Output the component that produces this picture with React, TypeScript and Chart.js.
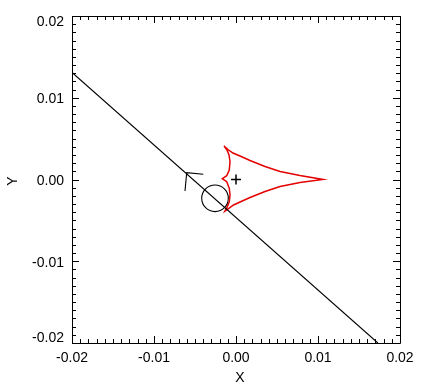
import React, { useEffect, useRef } from "react";
import { Chart, registerables } from "chart.js";

Chart.register(...registerables);

// Axis ticks
const tickValues = [-0.02, -0.01, 0.0, 0.01, 0.02];
const tickLabels = ["-0.02", "-0.01", "0.00", "0.01", "0.02"];
const xTitle = "X";
const yTitle = "Y";

// Straight trajectory line
const lineX = [-0.02, 0.0173];
const lineY = [0.0131, -0.02];

// Arrow chevron on the line
const arrowX = [-0.00399, -0.00601, -0.00622];
const arrowY = [0.00064, 0.00083, -0.00141];

// Circle (source) and plus (lens centre)
const circleX = [-0.00256];
const circleY = [-0.0023];
const plusX = [0.0];
const plusY = [0.0];

// Caustic: upper arc (top cusp -> right cusp)
const upperX = [-0.00146, -0.00098, -0.00037, 0.00049, 0.00171, 0.00354, 0.00537, 0.0078, 0.01061];
const upperY = [0.0041, 0.00367, 0.00324, 0.00287, 0.00232, 0.00159, 0.00098, 0.00049, 0.0];
// lower arc (right cusp -> bottom cusp)
const lowerX = [0.01061, 0.0078, 0.00537, 0.00354, 0.00171, 0.00049, -0.0003, -0.00091, -0.00134];
const lowerY = [0.0, -0.00037, -0.00086, -0.00147, -0.0022, -0.00275, -0.00312, -0.00355, -0.00385];
// lower-left arc (bottom cusp -> left cusp)
const lowLeftX = [-0.00134, -0.00106, -0.00082, -0.00073, -0.00082, -0.00113, -0.00167];
const lowLeftY = [-0.00385, -0.00333, -0.00272, -0.0019, -0.00108, -0.00027, 0.0001];
// upper-left arc (left cusp -> top cusp)
const upLeftX = [-0.00167, -0.00113, -0.00082, -0.00073, -0.00085, -0.0011, -0.00146];
const upLeftY = [0.0001, 0.00046, 0.00116, 0.00218, 0.003, 0.00361, 0.0041];

const pts = (xs: number[], ys: number[]) => xs.map((x, i) => ({ x, y: ys[i] }));

const FONT = "14px 'Liberation Sans', Arial, Helvetica, sans-serif";

const framePlugin = {
  id: "frameTicks",
  afterDatasetsDraw(chart: any) {
    const { ctx, chartArea } = chart;
    const { left, right, top, bottom } = chartArea;
    const xs = chart.scales.x;
    const ys = chart.scales.y;
    ctx.save();
    ctx.strokeStyle = "#000";
    ctx.lineWidth = 1;
    ctx.beginPath();
    ctx.rect(Math.round(left) + 0.5, Math.round(top) + 0.5, Math.round(right - left), Math.round(bottom - top));
    ctx.stroke();
    ctx.beginPath();
    for (let i = -20; i <= 20; i++) {
      const v = i / 1000;
      const len = i % 10 === 0 ? 7 : 4;
      const px = Math.round(xs.getPixelForValue(v)) + 0.5;
      ctx.moveTo(px, bottom);
      ctx.lineTo(px, bottom - len);
      ctx.moveTo(px, top);
      ctx.lineTo(px, top + len);
      const py = Math.round(ys.getPixelForValue(v)) + 0.5;
      ctx.moveTo(left, py);
      ctx.lineTo(left + len, py);
      ctx.moveTo(right, py);
      ctx.lineTo(right - len, py);
    }
    ctx.stroke();

    // y tick labels (end labels kept inside the axis span)
    ctx.fillStyle = "#000";
    ctx.font = FONT;
    ctx.textAlign = "right";
    ctx.textBaseline = "middle";
    tickValues.forEach((v, i) => {
      const py = ys.getPixelForValue(v);
      let off = 1.5;
      if (i === tickValues.length - 1) off = 6;
      if (i === 0) off = -5;
      ctx.fillText(tickLabels[i], left - 8, py + off);
    });

    // axis titles
    ctx.textAlign = "center";
    ctx.fillText(xTitle, (left + right) / 2 + 4, 378);
    ctx.save();
    ctx.translate(13, (top + bottom) / 2 + 1.5);
    ctx.rotate(-Math.PI / 2);
    ctx.fillText(yTitle, 0, 0);
    ctx.restore();
    ctx.restore();
  },
};

export default function App() {
  const ref = useRef<HTMLCanvasElement>(null);
  useEffect(() => {
    if (!ref.current) return;
    const font = { family: "'Liberation Sans', Arial, Helvetica, sans-serif", size: 14 };
    const chart = new Chart(ref.current, {
      type: "scatter",
      data: {
        datasets: [
          {
            data: pts(lineX, lineY),
            showLine: true,
            borderColor: "#000",
            borderWidth: 1.1,
            pointRadius: 0,
          },
          {
            data: pts(arrowX, arrowY),
            showLine: true,
            borderColor: "#000",
            borderWidth: 1.1,
            pointRadius: 0,
          },
          {
            data: [
              ...pts(upperX, upperY),
              ...pts(lowerX, lowerY),
              ...pts(lowLeftX, lowLeftY),
              ...pts(upLeftX, upLeftY),
            ],
            showLine: true,
            borderColor: "rgb(228,0,0)",
            borderWidth: 1.5,
            pointRadius: 0,
          },
          {
            data: pts(circleX, circleY),
            showLine: false,
            pointStyle: "circle",
            pointRadius: 13.3,
            backgroundColor: "rgba(0,0,0,0)",
            borderColor: "#000",
            borderWidth: 1.1,
          },
          {
            data: pts(plusX, plusY),
            showLine: false,
            pointStyle: "cross",
            pointRadius: 5,
            borderColor: "#000",
            borderWidth: 1.5,
          },
        ],
      },
      options: {
        responsive: false,
        animation: false,
        events: [],
        layout: { padding: { left: 0, top: 16, right: 38, bottom: 0 } },
        plugins: { legend: { display: false }, tooltip: { enabled: false } },
        scales: {
          x: {
            type: "linear",
            min: -0.02,
            max: 0.02,
            grid: { display: false },
            border: { display: false },
            afterBuildTicks: (s: any) => {
              s.ticks = tickValues.map((v) => ({ value: v }));
            },
            afterFit: (s: any) => {
              s.height = 49;
            },
            ticks: {
              color: "#000",
              font,
              padding: -1,
              maxRotation: 0,
              callback: (_v: any, i: number) => tickLabels[i],
            },
          },
          y: {
            type: "linear",
            min: -0.02,
            max: 0.02,
            grid: { display: false },
            border: { display: false },
            afterBuildTicks: (s: any) => {
              s.ticks = tickValues.map((v) => ({ value: v }));
            },
            afterFit: (s: any) => {
              s.width = 72;
            },
            ticks: {
              display: false,
            },
          },
        },
      },
      plugins: [framePlugin],
    });
    return () => chart.destroy();
  }, []);
  return (
    <div style={{ position: "absolute", left: 0, top: 0, width: 438, height: 392, background: "#fff" }}>
      <canvas ref={ref} width={438} height={392} style={{ display: "block" }} />
    </div>
  );
}
